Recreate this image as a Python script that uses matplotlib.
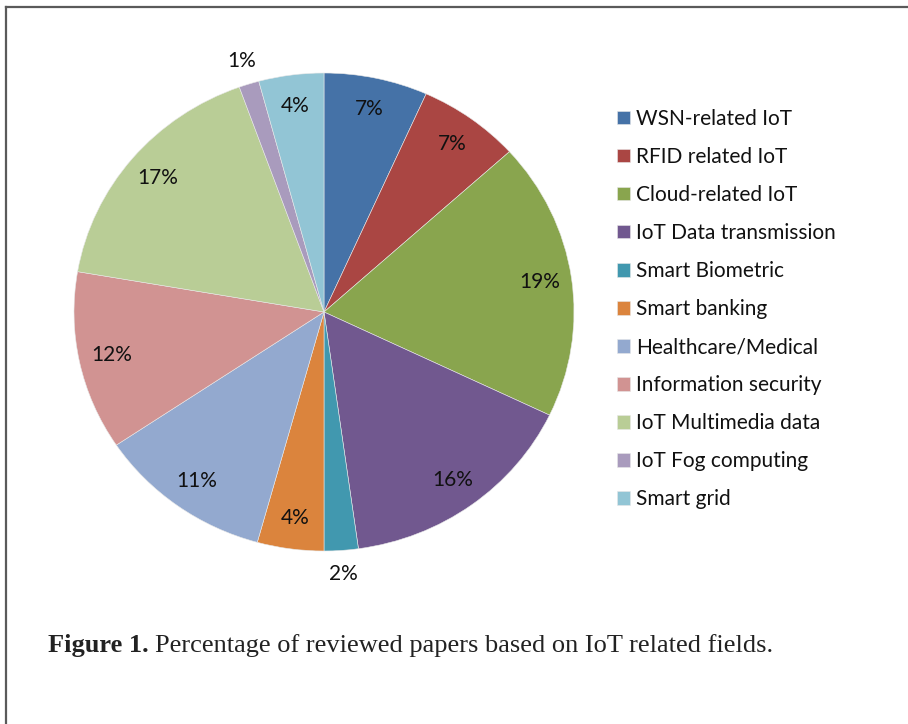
"""Pie chart: share of reviewed papers by IoT related field."""

import matplotlib
matplotlib.use("Agg")
import matplotlib.pyplot as plt
import numpy as np
from matplotlib.lines import Line2D

plt.rcParams["font.family"] = ["Lato", "DejaVu Sans"]

CATEGORIES = [
    "WSN-related IoT",
    "RFID related IoT",
    "Cloud-related IoT",
    "IoT Data transmission",
    "Smart Biometric",
    "Smart banking",
    "Healthcare/Medical",
    "Information security",
    "IoT Multimedia data",
    "IoT Fog computing",
    "Smart grid",
]
SHARES = [6.7, 6.6, 18.8, 15.7, 2.2, 4.3, 11.3, 12.1, 16.8, 1.3, 4.2]
COLORS = [
    "#4572A7", "#AA4643", "#89A54E", "#71588F", "#4198AF", "#DB843D",
    "#93A9CF", "#D19392", "#B9CD96", "#A99BBD", "#92C5D5",
]
CAPTION_BOLD = "Figure 1."
CAPTION_TEXT = "Percentage of reviewed papers based on IoT related fields."

W, H = 908, 724


def px_box(left, top, width, height):
    return [left / W, (H - top - height) / H, width / W, height / H]


def main() -> None:
    fig = plt.figure(figsize=(W / 100, H / 100), dpi=100)

    # pie is slightly squashed in the source: rx=250 px, ry=239 px
    ax = fig.add_axes(px_box(24, 312 - 1.2 * 239, 600, 2.4 * 239))
    wedges, _, autotexts = ax.pie(
        SHARES,
        colors=COLORS,
        startangle=90,
        counterclock=False,
        autopct="%.0f%%",
        pctdistance=0.87,
        wedgeprops=dict(edgecolor="#e8e8e8", linewidth=0.4),
        textprops=dict(fontsize=15, color="#111111"),
    )
    ax.set_aspect("auto")
    ax.set_xlim(-1.2, 1.2)
    ax.set_ylim(-1.2, 1.2)
    ax.axis("off")

    # tiny slices get their label outside the pie
    for wedge, txt, share in zip(wedges, autotexts, SHARES):
        if share < 3:
            mid = np.deg2rad((wedge.theta1 + wedge.theta2) / 2)
            txt.set_position((1.1 * np.cos(mid), 1.1 * np.sin(mid)))

    fig.legend(
        wedges,
        CATEGORIES,
        loc="upper left",
        bbox_to_anchor=(617 / W, (H - 109) / H),
        frameon=False,
        fontsize=15,
        handlelength=0.62,
        handleheight=0.62,
        handletextpad=0.3,
        labelspacing=0.865,
        borderpad=0,
        borderaxespad=0,
        labelcolor="#111111",
    )

    # frame of the figure box (top and left edges visible)
    fig.add_artist(Line2D([5.5 / W, 1], [1 - 6.5 / H] * 2, color="#5a5a5a", linewidth=1.6))
    fig.add_artist(Line2D([5.5 / W] * 2, [0, 1 - 6.5 / H], color="#5a5a5a", linewidth=1.6))

    serif = ["Liberation Serif", "DejaVu Serif"]
    bold = fig.text(48 / W, 72 / H, CAPTION_BOLD, family=serif, fontweight="bold",
                    fontsize=19, va="baseline", color="#222222")
    renderer = fig.canvas.get_renderer()
    right = bold.get_window_extent(renderer).x1
    fig.text((right + 6) / W, 72 / H, CAPTION_TEXT, family=serif,
             fontsize=19, va="baseline", color="#222222")

    fig.savefig("out.png", dpi=100)
    plt.close(fig)


if __name__ == "__main__":
    main()
